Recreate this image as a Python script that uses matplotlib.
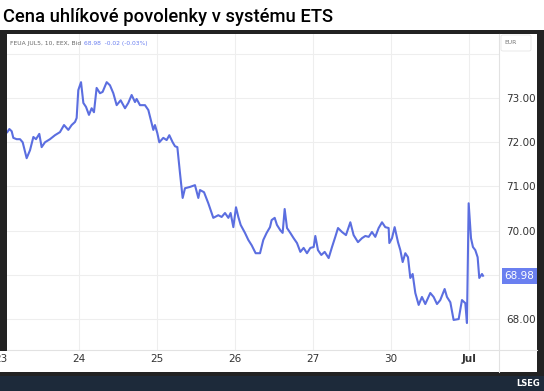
import matplotlib.pyplot as plt
from matplotlib.patches import Rectangle, FancyBboxPatch
from matplotlib.lines import Line2D

W, H = 544, 391

# pozice v obchodnich dnech (0 = 23. 6., 6 = 1. 7.) a cena Bid v EUR
t_day = [0.081, 0.107, 0.137, 0.158, 0.201, 0.244, 0.278, 0.329, 0.372, 0.415,
         0.449, 0.491, 0.521, 0.564, 0.628, 0.692, 0.756, 0.808, 0.863, 0.906,
         0.949, 0.970, 0.991, 1.026, 1.056, 1.090, 1.128, 1.162, 1.192, 1.226,
         1.269, 1.303, 1.355, 1.397, 1.440, 1.483, 1.534, 1.590, 1.632, 1.675,
         1.718, 1.739, 1.782, 1.846, 1.889, 1.932, 1.953, 1.974, 2.004, 2.030,
         2.081, 2.124, 2.158, 2.201, 2.231, 2.261, 2.295, 2.329, 2.359, 2.423,
         2.487, 2.530, 2.551, 2.603, 2.658, 2.722, 2.786, 2.829, 2.872, 2.915,
         2.944, 2.979, 3.013, 3.043, 3.073, 3.128, 3.171, 3.214, 3.265, 3.321,
         3.363, 3.406, 3.449, 3.470, 3.509, 3.538, 3.581, 3.611, 3.637, 3.667,
         3.709, 3.752, 3.795, 3.838, 3.880, 3.923, 3.966, 4.009, 4.030, 4.064,
         4.107, 4.150, 4.201, 4.244, 4.286, 4.321, 4.372, 4.423, 4.479, 4.521,
         4.577, 4.628, 4.671, 4.714, 4.756, 4.799, 4.842, 4.885, 4.927, 4.970,
         4.979, 5.013, 5.047, 5.090, 5.120, 5.150, 5.184, 5.218, 5.248, 5.278,
         5.312, 5.355, 5.397, 5.440, 5.504, 5.547, 5.590, 5.632, 5.688, 5.718,
         5.761, 5.803, 5.868, 5.910, 5.953, 5.974, 5.996, 6.026, 6.051, 6.081,
         6.111, 6.132, 6.167, 6.180]
bid = [72.23, 72.30, 72.25, 72.10, 72.07, 72.07, 72.00, 71.64, 71.82, 72.12,
       72.07, 72.19, 71.89, 72.00, 72.07, 72.16, 72.23, 72.39, 72.28, 72.39,
       72.46, 72.55, 73.18, 73.36, 72.89, 72.80, 72.62, 72.77, 72.68, 73.23,
       73.11, 73.14, 73.36, 73.29, 73.11, 72.84, 72.95, 72.77, 72.89, 73.07,
       72.91, 72.98, 72.84, 72.84, 72.73, 72.43, 72.28, 72.39, 72.21, 72.00,
       72.10, 72.05, 72.16, 72.00, 71.91, 71.89, 71.30, 70.74, 70.96, 70.99,
       71.03, 70.74, 70.92, 70.87, 70.62, 70.29, 70.35, 70.31, 70.40, 70.29,
       70.40, 70.08, 70.53, 70.31, 70.13, 69.95, 69.79, 69.67, 69.49, 69.49,
       69.79, 69.95, 70.08, 70.24, 70.29, 70.13, 70.01, 69.95, 70.49, 70.06,
       69.95, 69.83, 69.72, 69.52, 69.61, 69.49, 69.61, 69.63, 69.88, 69.56,
       69.45, 69.52, 69.38, 69.63, 69.86, 70.06, 69.97, 69.90, 70.19, 69.90,
       69.74, 69.83, 69.88, 69.86, 69.97, 69.86, 70.06, 70.19, 70.08, 70.06,
       69.72, 69.83, 70.08, 69.74, 69.56, 69.29, 69.49, 69.40, 68.93, 69.02,
       68.59, 68.32, 68.50, 68.34, 68.59, 68.50, 68.34, 68.43, 68.68, 68.50,
       68.38, 67.98, 68.00, 68.43, 68.36, 67.91, 70.62, 69.83, 69.63, 69.56,
       69.40, 68.93, 69.02, 68.98]

day_ticks = [1, 2, 3, 4, 5, 6]
day_labels = ["24", "25", "26", "27", "30", "Jul"]
price_ticks = [68, 70, 71, 72, 73]
grid_only = [69, 74]

title = "Cena uhlíkové povolenky v systému ETS"
header = "FEUA JUL5, 10, EEX, Bid"
header_quote = "68.98  -0.02 (-0.03%)"

line_col = "#5b6ee0"
grid_col = "#eeeeee"


def fx(x):
    return x / W


def fy(y):
    return 1 - y / H


def rect(x0, y0, x1, y1):
    # pixelovy obdelnik (shora) -> [left, bottom, width, height] ve zlomcich
    return [fx(x0), fy(y1), (x1 - x0) / W, (y1 - y0) / H]


def add_box(x0, y0, x1, y1, c, z):
    r = rect(x0, y0, x1, y1)
    fig.patches.append(Rectangle((r[0], r[1]), r[2], r[3], transform=fig.transFigure,
                                 facecolor=c, edgecolor="none", zorder=z))


fig = plt.figure(figsize=(W / 100, H / 100), dpi=100)
fig.patch.set_facecolor("white")

# tmavy ramecek, spodni lista a bila plocha grafu (pod osami)
add_box(0, 30, W, H, "#222222", -3)
add_box(0, 376, W, H, "#1d2a3a", -2)
add_box(7, 34, 537, 372, "white", -1)
add_box(0, 351, 7, 372, "white", -1)

ax = fig.add_axes(rect(7, 34, 499, 350))
ax.set_facecolor("none")
ax.plot(t_day, bid, color=line_col, lw=1.5, solid_joinstyle="round", zorder=3)

ax.set_xlim(0.077, 6.385)
ax.set_ylim(67.30, 74.45)
ax.set_xticks(day_ticks)
ax.set_xticklabels(day_labels)
ax.get_xticklabels()[-1].set_fontweight("bold")
ax.set_yticks(price_ticks)
ax.set_yticklabels([f"{v:.2f}" for v in price_ticks])
ax.set_yticks(grid_only, minor=True)
ax.yaxis.tick_right()
ax.tick_params(axis="both", which="both", length=0, labelsize=7.5, labelcolor="#333333")
ax.tick_params(axis="x", pad=3)
ax.tick_params(axis="y", pad=5)
ax.grid(True, which="both", color=grid_col, lw=0.8, zorder=0)
for s in ax.spines.values():
    s.set_visible(False)

# castecne oriznuty popisek "23" na levem okraji
ax.annotate("23", xy=(0, 0), xycoords=("data", "axes fraction"), xytext=(0, -3),
            textcoords="offset points", ha="center", va="top", fontsize=7.5,
            color="#333333", annotation_clip=False)

# oddelovace cenove osy a casove osy
fig.lines.append(Line2D([fx(499), fx(499)], [fy(34), fy(372)], transform=fig.transFigure,
                        color="#e2e2e2", lw=0.8))
fig.lines.append(Line2D([fx(7), fx(537)], [fy(350), fy(350)], transform=fig.transFigure,
                        color="#e2e2e2", lw=0.8))

# posledni cena
ax.annotate(f"{bid[-1]:.2f}", xy=(1, bid[-1]), xycoords=("axes fraction", "data"),
            xytext=(4, 0), textcoords="offset points", ha="left", va="center",
            fontsize=7.5, color="white", annotation_clip=False, zorder=5,
            bbox=dict(boxstyle="square,pad=0.28", fc="#6a7ff0", ec="none"))

# hlavicka grafu
fig.text(fx(10), fy(43), header, fontsize=4.3, color="#666666", va="center")
fig.text(fx(84), fy(43), header_quote, fontsize=4.3, color="#6a7ff0", va="center")
b = rect(501, 35, 531, 51)
fig.patches.append(FancyBboxPatch((b[0], b[1]), b[2], b[3], transform=fig.transFigure,
                                  boxstyle="round,pad=0,rounding_size=0.004",
                                  facecolor="white", edgecolor="#e6e6e6", lw=0.6))
fig.text(fx(504), fy(43), "EUR", fontsize=4.3, color="#777777", va="center")

fig.text(fx(3), fy(17), title, fontsize=13.2, fontweight="medium", family="Roboto",
         color="black", va="center")
fig.text(fx(516), fy(383.5), "LSEG", fontsize=6, fontweight="bold", color="white",
         va="center")

fig.savefig("out.png", dpi=100)
